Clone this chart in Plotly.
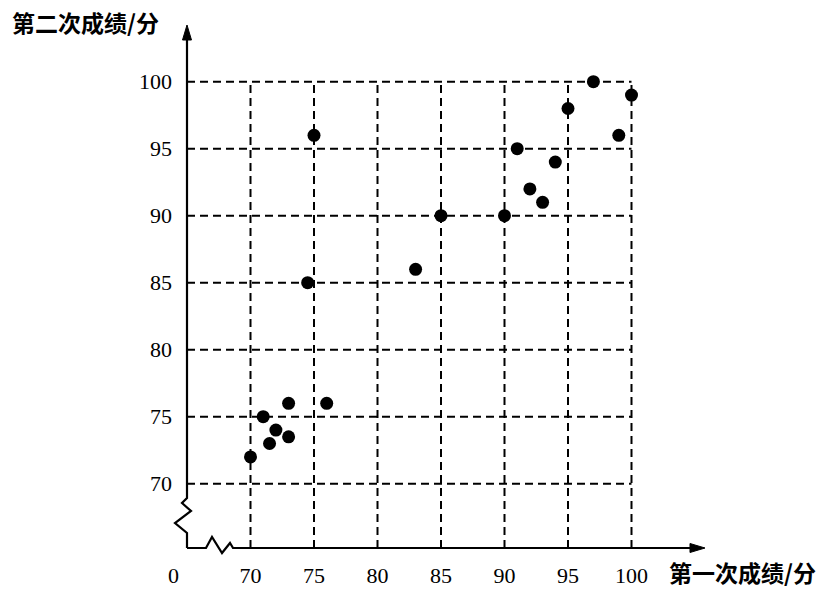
import plotly.graph_objects as go

# ---- data ----
first_score = [70, 71, 71.5, 72, 73, 73, 74.5, 75, 76, 83, 85, 90, 91, 92, 93, 94, 95, 97, 99, 100]
second_score = [72, 75, 73, 74, 76, 73.5, 85, 96, 76, 86, 90, 90, 95, 92, 91, 94, 98, 100, 96, 99]
tick_values = [70, 75, 80, 85, 90, 95, 100]
tick_labels = ["70", "75", "80", "85", "90", "95", "100"]
x_title = "第一次成绩/分"
y_title = "第二次成绩/分"
origin_label = "0"

# ---- layout geometry (reference pixel coords) ----
W, H = 833, 590
PLOT_L, PLOT_R, PLOT_T, PLOT_B = 187, 720, 20, 548
L, R, T, B = PLOT_L, W - PLOT_R, PLOT_T, H - PLOT_B
PX_X = 12.7   # pixels per unit on x
PX_Y = 13.4   # pixels per unit on y
X0, Y0 = 65.0, 65.2
PW, PH = PLOT_R - PLOT_L, PLOT_B - PLOT_T
x_range = [X0, X0 + PW / PX_X]
y_range = [Y0, Y0 + PH / PX_Y]


def paper_x(px):
    return (px - PLOT_L) / PW


def paper_y(py):
    return (PLOT_B - py) / PH


def ppath(pts, close=False):
    s = "M " + " L ".join(f"{paper_x(a):.5f},{paper_y(b):.5f}" for a, b in pts)
    return s + (" Z" if close else "")


fig = go.Figure()
fig.add_trace(go.Scatter(
    x=first_score, y=second_score, mode="markers",
    marker=dict(color="black", size=13, line=dict(width=0)),
    cliponaxis=False, hoverinfo="x+y"))

shapes = []
dash = "8px,5px"
gmax = max(tick_values)
for v in tick_values:
    shapes.append(dict(type="line", xref="x", yref="y", x0=v, x1=v, y0=Y0, y1=gmax,
                       line=dict(color="black", width=2, dash=dash), layer="below"))
    shapes.append(dict(type="line", xref="x", yref="y", x0=X0, x1=gmax, y0=v, y1=v,
                       line=dict(color="black", width=2, dash=dash), layer="below"))

# y axis with break
ypts = [(187, 548), (187, 533), (175, 523), (191, 511), (182, 503), (187, 498), (187, 34)]
shapes.append(dict(type="path", xref="paper", yref="paper", path=ppath(ypts),
                   line=dict(color="black", width=2.2)))
# x axis with break
xpts = [(187, 548), (206, 548), (212, 537), (222, 553), (230, 543), (233, 548), (696, 548)]
shapes.append(dict(type="path", xref="paper", yref="paper", path=ppath(xpts),
                   line=dict(color="black", width=2.2)))
# arrowheads
shapes.append(dict(type="path", xref="paper", yref="paper",
                   path=ppath([(187, 25), (182.5, 40), (191.5, 40)], True),
                   fillcolor="black", line=dict(color="black", width=1)))
shapes.append(dict(type="path", xref="paper", yref="paper",
                   path=ppath([(705, 548), (690, 543.5), (690, 552.5)], True),
                   fillcolor="black", line=dict(color="black", width=1)))

tick_font = dict(family="Liberation Serif, Times New Roman, serif", size=22, color="black")
cjk_font = dict(family="Noto Sans CJK SC, sans-serif", size=23, color="black", weight=700)

annotations = [
    dict(text=origin_label, xref="paper", yref="paper", x=paper_x(173), y=paper_y(575),
         showarrow=False, font=tick_font, xanchor="center", yanchor="middle"),
    dict(text=x_title, xref="paper", yref="paper", x=paper_x(668), y=paper_y(572),
         showarrow=False, font=cjk_font, xanchor="left", yanchor="middle", borderpad=0),
    dict(text=y_title, xref="paper", yref="paper", x=paper_x(11), y=paper_y(22),
         showarrow=False, font=cjk_font, xanchor="left", yanchor="middle", borderpad=0),
]

fig.update_layout(
    width=W, height=H, autosize=False,
    margin=dict(l=L, r=R, t=T, b=B, pad=0, autoexpand=False),
    plot_bgcolor="white", paper_bgcolor="white",
    showlegend=False,
    shapes=shapes, annotations=annotations,
    xaxis=dict(range=x_range, tickvals=tick_values, ticktext=tick_labels,
               showgrid=False, zeroline=False, showline=False, ticks="",
               tickfont=tick_font, ticklabelstandoff=12, fixedrange=True,
               automargin=False),
    yaxis=dict(range=y_range, tickvals=tick_values, ticktext=tick_labels,
               showgrid=False, zeroline=False, showline=False, ticks="",
               tickfont=tick_font, ticklabelstandoff=14, fixedrange=True,
               automargin=False),
)

fig.write_html(
    "out.html",
    config={"displayModeBar": False},
    post_script="document.documentElement.style.margin='0';document.body.style.margin='0';"
                "document.documentElement.style.overflow='hidden';document.body.style.overflow='hidden';",
)
